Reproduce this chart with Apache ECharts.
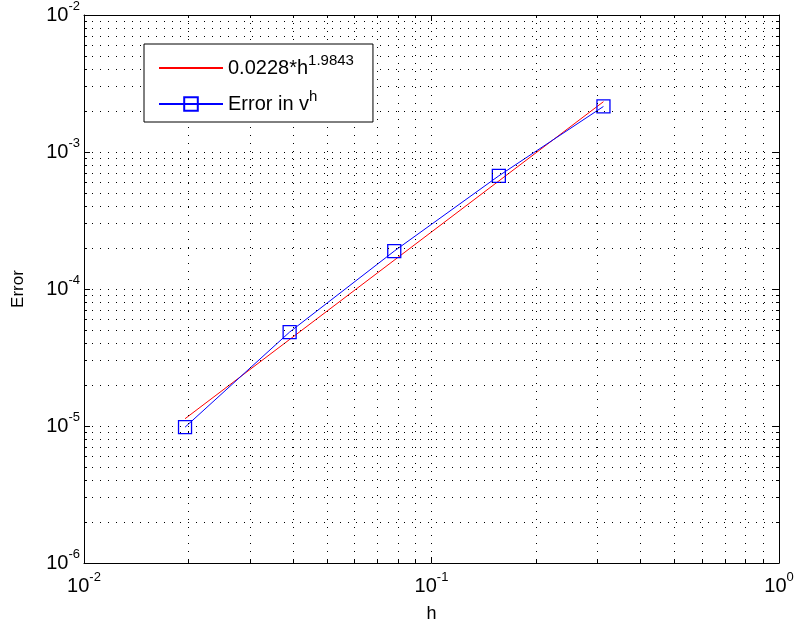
<!DOCTYPE html>
<html><head><meta charset="utf-8">
<script src="https://cdn.jsdelivr.net/npm/echarts@6/dist/echarts.min.js"></script>
<style>html,body{margin:0;padding:0;background:#fff}#c{width:795px;height:623px}</style>
</head><body><div id="c"></div>
<script>
// ---- data ----
const hValues = [0.01953125, 0.0390625, 0.078125, 0.15625, 0.3125];
const errorValues = [9.8e-6, 4.85e-5, 1.89e-4, 6.7e-4, 2.15e-3];
const fitH = [0.01953125, 0.3125];
const fitValues = [1.13e-5, 2.33e-3];
const fitName = '0.0228*h^1.9843';
const errName = 'Error in v^h';
// ---- ticks ----
const xMajorTicks = [0.01, 0.1, 1];
const xAllTicks = [0.01,0.02,0.03,0.04,0.05,0.06,0.07,0.08,0.09,0.1,0.2,0.3,0.4,0.5,0.6,0.7,0.8,0.9,1];
const yMajorTicks = [1e-6, 1e-5, 1e-4, 1e-3, 1e-2];
const yAllTicks = [1e-6,2e-6,3e-6,4e-6,5e-6,6e-6,7e-6,8e-6,9e-6,
  1e-5,2e-5,3e-5,4e-5,5e-5,6e-5,7e-5,8e-5,9e-5,
  1e-4,2e-4,3e-4,4e-4,5e-4,6e-4,7e-4,8e-4,9e-4,
  1e-3,2e-3,3e-3,4e-3,5e-3,6e-3,7e-3,8e-3,9e-3,1e-2];

const FONT = 'Liberation Sans, Arial, Helvetica, sans-serif';
const rich = {
  b: {fontSize: 20, fontFamily: FONT, color: '#000'},
  s: {fontSize: 13, fontFamily: FONT, color: '#000', padding: [0,0,17,0]}
};
function powLabel(v) {
  const e = Math.round(Math.log10(v));
  return '{b|10}{s|' + (e < 0 ? '-' + (-e) : e) + '}';
}
const dotted = {color: '#000', width: 1, type: [1, 7]};
function mkAxis(kind, pos, major, withLabel, range) {
  const all = kind === 'x' ? xAllTicks : yAllTicks;
  const maj = kind === 'x' ? xMajorTicks : yMajorTicks;
  return {
    type: 'log', logBase: 10, min: range[0], max: range[1], position: pos,
    axisLine: {show: !major, lineStyle: {color: '#000', width: 1}},
    axisTick: {show: true, inside: true, length: major ? 6 : 3, customValues: major ? maj : all,
      lineStyle: {color: '#000', width: 1}},
    splitLine: {show: withLabel, lineStyle: dotted},
    minorTick: {show: false}, minorSplitLine: {show: false},
    axisLabel: withLabel ? {show: true, customValues: maj, formatter: powLabel, rich: rich,
      margin: kind === 'x' ? 8 : 4} : {show: false},
    z: 5
  };
}
const xr = [0.01, 1], yr = [1e-6, 1e-2];
const xAxes = [
  Object.assign(mkAxis('x', 'bottom', false, true, xr), {name: 'h', nameLocation: 'middle', nameGap: 42,
    nameTextStyle: {fontSize: 18, fontFamily: FONT, color: '#000'}}),
  mkAxis('x', 'bottom', true, false, xr),
  mkAxis('x', 'top', false, false, xr),
  mkAxis('x', 'top', true, false, xr)
];
const yAxes = [
  Object.assign(mkAxis('y', 'left', false, true, yr), {name: 'Error', nameLocation: 'middle', nameGap: 57,
    nameTextStyle: {fontSize: 17, fontFamily: FONT, color: '#000'}}),
  mkAxis('y', 'left', true, false, yr),
  mkAxis('y', 'right', false, false, yr),
  mkAxis('y', 'right', true, false, yr)
];

const chart = echarts.init(document.getElementById('c'), null, {renderer: 'canvas'});
chart.setOption({
  animation: false,
  backgroundColor: '#fff',
  grid: {left: 84, right: 16, top: 15, bottom: 60, containLabel: false, outerBoundsMode: 'none'},
  xAxis: xAxes,
  yAxis: yAxes,
  legend: {
    left: 144, top: 44, orient: 'vertical',
    backgroundColor: '#fff', borderColor: '#000', borderWidth: 1,
    padding: [9, 19, 8, 14], itemWidth: 64, itemHeight: 17, itemGap: 11,
    data: [{name: fitName, itemStyle: {opacity: 0}}, {name: errName}],
    formatter: function (n) {
      return n === fitName ? '{b|0.0228*h}{s|1.9843}' : '{b|Error in v}{s|h}';
    },
    textStyle: {rich: {
      b: {fontSize: 20, fontFamily: FONT, color: '#000'},
      s: {fontSize: 15, fontFamily: FONT, color: '#000', padding: [0,0,15,0]}
    }},
    z: 10
  },
  series: [
    {name: fitName, type: 'line', symbol: 'none', color: '#ff0000',
     lineStyle: {color: '#ff0000', width: 1},
     data: fitH.map((h, i) => [h, fitValues[i]]), z: 3},
    {name: errName, type: 'line', symbol: 'rect', symbolSize: 13, color: '#0000ff',
     lineStyle: {color: '#0000ff', width: 1},
     itemStyle: {color: 'rgba(255,255,255,0)', borderColor: '#0000ff', borderWidth: 1.3},
     data: hValues.map((h, i) => [h, errorValues[i]]), z: 4}
  ]
});
</script></body></html>
